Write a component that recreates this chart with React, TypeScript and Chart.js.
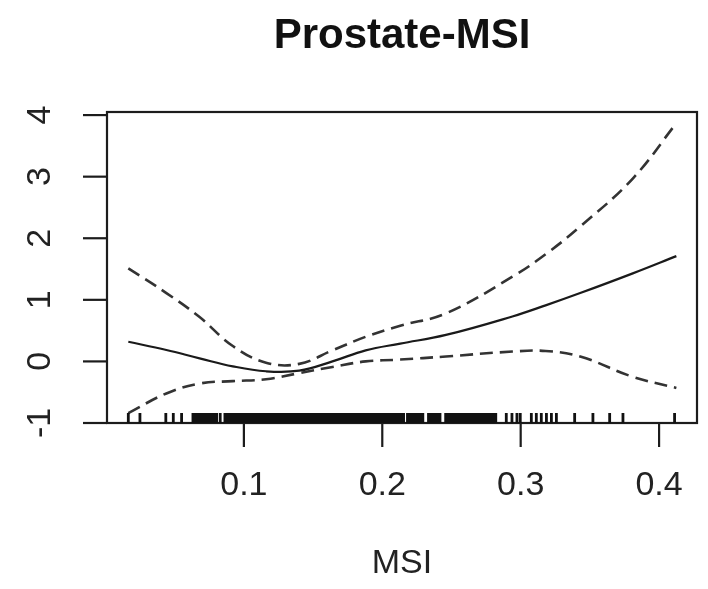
import React, { useEffect, useRef } from "react";
import { Chart, registerables } from "chart.js";

Chart.register(...registerables);

const TITLE = "Prostate-MSI";
const X_LABEL = "MSI";

const xGrid = [0.0165, 0.044, 0.068, 0.092, 0.116, 0.14, 0.164, 0.188, 0.213, 0.246, 0.294, 0.318, 0.343, 0.381, 0.4125];
const fitValues = [0.32, 0.185, 0.05, -0.08, -0.16, -0.15, 0.0, 0.18, 0.29, 0.43, 0.73, 0.91, 1.11, 1.43, 1.71];
const upperValues = [1.51, 1.11, 0.72, 0.25, -0.02, -0.04, 0.18, 0.4, 0.58, 0.78, 1.375, 1.74, 2.19, 2.97, 3.87];
const lowerValues = [-0.84, -0.52, -0.36, -0.32, -0.29, -0.19, -0.09, 0.0, 0.03, 0.08, 0.16, 0.17, 0.08, -0.25, -0.43];

const rugValues = [
  0.0165, 0.0249, 0.0436, 0.049, 0.055,
  0.0632, 0.0649, 0.0667, 0.0684, 0.0702, 0.0719, 0.0737, 0.0754, 0.0772, 0.0789, 0.0803, 0.0829,
  0.0863, 0.0881, 0.0899, 0.0917, 0.0935, 0.0953, 0.0971, 0.0989, 0.1007, 0.1025, 0.1043, 0.1061,
  0.1079, 0.1097, 0.1115, 0.1133, 0.1151, 0.1169, 0.1187, 0.1205, 0.1223, 0.1241, 0.1259, 0.1277,
  0.1295, 0.1313, 0.1331, 0.1349, 0.1367, 0.1385, 0.1403, 0.1421, 0.1439, 0.1457, 0.1475, 0.1493,
  0.1511, 0.1529, 0.1547, 0.1565, 0.1583, 0.1601, 0.1619, 0.1637, 0.1655, 0.1673, 0.1691, 0.1709,
  0.1727, 0.1745, 0.1763, 0.1781, 0.1799, 0.1817, 0.1835, 0.1853, 0.1871, 0.1889, 0.1907, 0.1925,
  0.1943, 0.1961, 0.1979, 0.1997, 0.2015, 0.2033, 0.2051, 0.2069, 0.2087, 0.2105, 0.2123, 0.2141, 0.2154,
  0.2182, 0.2199, 0.2215, 0.2232, 0.2248, 0.2265, 0.2282, 0.2293,
  0.2334, 0.2351, 0.2368, 0.2385, 0.2401, 0.2417,
  0.2458, 0.2476, 0.2494, 0.2512, 0.253, 0.2548, 0.2566, 0.2584, 0.2602, 0.262, 0.2638, 0.2656,
  0.2674, 0.2692, 0.271, 0.2728, 0.2746, 0.2764, 0.2782, 0.28, 0.282,
  0.2896, 0.2937, 0.2973, 0.2997, 0.3077, 0.3113, 0.3149, 0.3186, 0.3222, 0.3258,
  0.339, 0.3522, 0.3643, 0.3739, 0.4112,
];

const xTicks = [0.1, 0.2, 0.3, 0.4];
const xTickLabels = ["0.1", "0.2", "0.3", "0.4"];
const yTicks = [-1, 0, 1, 2, 3, 4];
const yTickLabels = ["-1", "0", "1", "2", "3", "4"];

const X_MIN = 0.0011;
const X_MAX = 0.4274;
const Y_MIN = -1;
const Y_MAX = 4.05;

const FONT = "'Liberation Sans', Arial, Helvetica, sans-serif";

const rPlot = {
  id: "rPlot",
  afterDraw(chart: any) {
    const { ctx, chartArea: a, scales } = chart;
    const xs = scales.x;
    const ys = scales.y;
    const line = (x1: number, y1: number, x2: number, y2: number) => {
      ctx.beginPath();
      ctx.moveTo(x1, y1);
      ctx.lineTo(x2, y2);
      ctx.stroke();
    };
    ctx.save();
    ctx.strokeStyle = "#1c1c1c";
    ctx.lineWidth = 2.2;
    ctx.strokeRect(a.left, a.top, a.right - a.left, a.bottom - a.top);

    // rug: one path so overlapping marks merge into a solid band
    ctx.strokeStyle = "#111";
    ctx.lineWidth = 2.8;
    ctx.beginPath();
    for (const v of rugValues) {
      const px = xs.getPixelForValue(v);
      ctx.moveTo(px, a.bottom);
      ctx.lineTo(px, a.bottom - 10);
    }
    ctx.stroke();

    ctx.strokeStyle = "#1c1c1c";
    ctx.lineWidth = 2.2;
    ctx.fillStyle = "#222";
    ctx.font = `34px ${FONT}`;
    ctx.textAlign = "center";
    ctx.textBaseline = "middle";
    xTicks.forEach((t, i) => {
      const px = xs.getPixelForValue(t);
      line(px, a.bottom, px, a.bottom + 24);
      ctx.fillText(xTickLabels[i], px, a.bottom + 63);
    });
    yTicks.forEach((t, i) => {
      const py = ys.getPixelForValue(t);
      line(a.left - 24, py, a.left, py);
      ctx.save();
      ctx.translate(a.left - 66, py);
      ctx.rotate(-Math.PI / 2);
      ctx.fillText(yTickLabels[i], 0, 0);
      ctx.restore();
    });

    const cx = (a.left + a.right) / 2;
    ctx.fillText(X_LABEL, cx, a.bottom + 141);

    ctx.fillStyle = "#111";
    ctx.font = `bold 42px ${FONT}`;
    ctx.fillText(TITLE, cx, 36);
    ctx.restore();
  },
};

export default function App() {
  const ref = useRef<HTMLCanvasElement | null>(null);
  useEffect(() => {
    if (!ref.current) return;
    const pts = (vals: number[]) => xGrid.map((x, i) => ({ x, y: vals[i] }));
    const chart = new Chart(ref.current, {
      type: "line",
      data: {
        datasets: [
          {
            label: "fit",
            data: pts(fitValues),
            borderColor: "#1a1a1a",
            borderWidth: 2.2,
            pointRadius: 0,
            tension: 0.4,
            fill: false,
          },
          {
            label: "upper",
            data: pts(upperValues),
            borderColor: "#333",
            borderWidth: 2.6,
            borderDash: [13, 7],
            pointRadius: 0,
            tension: 0.4,
            fill: false,
          },
          {
            label: "lower",
            data: pts(lowerValues),
            borderColor: "#333",
            borderWidth: 2.6,
            borderDash: [13, 7],
            pointRadius: 0,
            tension: 0.4,
            fill: false,
          },
        ],
      },
      options: {
        responsive: false,
        animation: false,
        layout: { padding: { left: 107, right: 11, top: 112, bottom: 166 } },
        plugins: { legend: { display: false }, tooltip: { enabled: false }, title: { display: false } },
        scales: {
          x: { type: "linear", min: X_MIN, max: X_MAX, display: false },
          y: { type: "linear", min: Y_MIN, max: Y_MAX, display: false },
        },
      },
      plugins: [rPlot],
    });
    return () => chart.destroy();
  }, []);
  return (
    <div style={{ position: "absolute", left: 0, top: 0, width: 708, height: 589, background: "#fff" }}>
      <canvas ref={ref} width={708} height={589} style={{ width: 708, height: 589 }} />
    </div>
  );
}
